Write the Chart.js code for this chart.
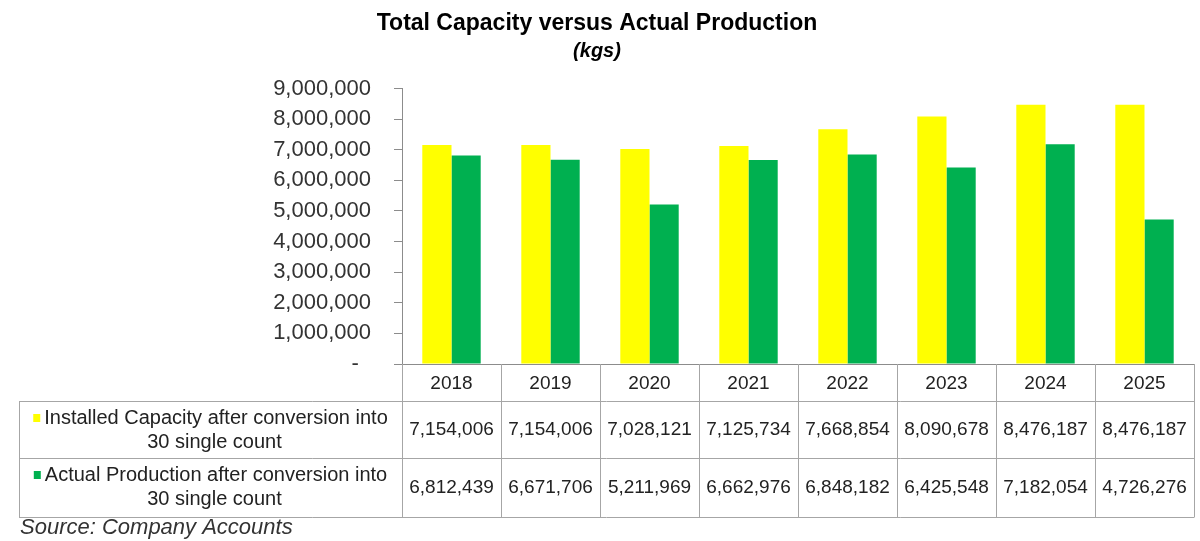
<!DOCTYPE html>
<html>
<head>
<meta charset="utf-8">
<title>Total Capacity versus Actual Production</title>
<script src="https://cdn.jsdelivr.net/npm/chart.js@4.4.1/dist/chart.umd.min.js"></script>
<style>
    body { margin: 0; background: #fff; }
    #wrap { width: 1200px; height: 541px; position: relative; }
</style>
</head>
<body>
<div id="wrap"><canvas id="myChart"></canvas></div>
<script>
const years = ['2018', '2019', '2020', '2021', '2022', '2023', '2024', '2025'];
const installedCapacity = [7154006, 7154006, 7028121, 7125734, 7668854, 8090678, 8476187, 8476187];
const actualProduction = [6812439, 6671706, 5211969, 6662976, 6848182, 6425548, 7182054, 4726276];
const seriesNames = [
    ['Installed Capacity after conversion into', '30 single count'],
    ['Actual Production after conversion into', '30 single count']
];
const seriesColors = ['#FFFF00', '#00B050'];
const yMax = 9000000;
const yStep = 1000000;
const sourceNote = 'Source: Company Accounts';

const fontFamily = '"Liberation Sans", Arial, sans-serif';

function fmt(v) {
    return v.toLocaleString('en-US');
}

// draws the Excel style data table under the plot, lined up with the x scale
const dataTable = {
    id: 'dataTable',
    afterDraw(chart) {
        let ctx = chart.ctx;
        let area = chart.chartArea;
        let xScale = chart.scales.x;
        let n = years.length;
        let cw = (area.right - area.left) / n;

        let top = area.bottom;
        let headBottom = top + 37;
        let rowBottoms = [headBottom + 57, headBottom + 116];
        let tableLeft = 19;
        let tableRight = area.right;
        let px = v => Math.round(v) + 0.5;

        ctx.save();
        ctx.strokeStyle = '#a6a6a6';
        ctx.lineWidth = 1;
        ctx.beginPath();
        [headBottom].concat(rowBottoms).forEach(function (y) {
            ctx.moveTo(tableLeft, px(y));
            ctx.lineTo(tableRight, px(y));
        });
        ctx.moveTo(px(tableLeft), px(headBottom));
        ctx.lineTo(px(tableLeft), px(rowBottoms[1]));
        for (let i = 0; i < n; i++) {
            let c = xScale.getPixelForValue(i);
            ctx.moveTo(px(c - cw / 2), top);
            ctx.lineTo(px(c - cw / 2), px(rowBottoms[1]));
        }
        ctx.moveTo(px(tableRight), top);
        ctx.lineTo(px(tableRight), px(rowBottoms[1]));
        ctx.stroke();

        ctx.fillStyle = '#222';
        ctx.textBaseline = 'middle';
        ctx.textAlign = 'center';
        ctx.font = '19px ' + fontFamily;

        let rowData = [installedCapacity, actualProduction];
        let rowTops = [headBottom, rowBottoms[0]];
        for (let i = 0; i < n; i++) {
            let c = xScale.getPixelForValue(i);
            ctx.fillText(years[i], c, (top + headBottom) / 2 + 1);
            rowData.forEach(function (arr, r) {
                let mid = (rowTops[r] + rowBottoms[r]) / 2;
                ctx.fillText(fmt(arr[i]), c, mid);
            });
        }

        // row labels with legend keys
        ctx.font = '20px ' + fontFamily;
        let colCenter = (tableLeft + area.left) / 2;
        seriesNames.forEach(function (lines, r) {
            let y1 = rowTops[r] + 17;
            let y2 = y1 + 24;
            let w = ctx.measureText(lines[0]).width;
            let start = colCenter - (w + 11) / 2;
            ctx.fillStyle = seriesColors[r];
            ctx.fillRect(start, y1 - 4, 7, 8);
            ctx.fillStyle = '#222';
            ctx.textAlign = 'left';
            ctx.fillText(lines[0], start + 11, y1);
            ctx.textAlign = 'center';
            ctx.fillText(lines[1], colCenter + 4, y2);
        });

        ctx.font = 'italic 22px ' + fontFamily;
        ctx.textAlign = 'left';
        ctx.fillStyle = '#333';
        ctx.fillText(sourceNote, 20, 528);
        ctx.restore();
    }
};

let myChart = document.getElementById('myChart').getContext('2d');

let barChart = new Chart(myChart, {
    type: 'bar',
    data: {
        labels: years,
        datasets: [{
            label: seriesNames[0].join(' '),
            data: installedCapacity,
            backgroundColor: seriesColors[0],
            borderWidth: 0
        }, {
            label: seriesNames[1].join(' '),
            data: actualProduction,
            backgroundColor: seriesColors[1],
            borderWidth: 0
        }]
    },
    options: {
        responsive: true,
        maintainAspectRatio: false,
        animation: false,
        categoryPercentage: 0.59,
        barPercentage: 1.0,
        layout: {
            padding: { left: 0, right: 6, top: 0, bottom: 177 }
        },
        plugins: {
            legend: { display: false },
            tooltip: { enabled: false },
            title: {
                display: true,
                text: 'Total Capacity versus Actual Production',
                color: '#000',
                font: { family: fontFamily, size: 23, weight: 'bold', lineHeight: 1.2 },
                padding: { top: 10, bottom: 0 }
            },
            subtitle: {
                display: true,
                text: '(kgs)',
                color: '#000',
                font: { family: fontFamily, size: 20, weight: 'bold', style: 'italic', lineHeight: 1.2 },
                padding: { top: 2, bottom: 25 }
            }
        },
        scales: {
            x: {
                ticks: { display: false },
                grid: { display: false, drawTicks: false },
                border: { display: true, color: '#8c8c8c' }
            },
            y: {
                min: 0,
                max: yMax,
                afterFit: function (scale) {
                    scale.width = 402;
                },
                ticks: {
                    stepSize: yStep,
                    padding: 23,
                    color: '#333',
                    font: { family: fontFamily, size: 22 },
                    callback: function (value) {
                        return value === 0 ? '-  ' : fmt(value);
                    }
                },
                grid: { drawOnChartArea: false, drawTicks: true, tickLength: 8, color: '#8c8c8c' },
                border: { display: true, color: '#8c8c8c' }
            }
        }
    },
    plugins: [dataTable]
});
</script>
</body>
</html>
